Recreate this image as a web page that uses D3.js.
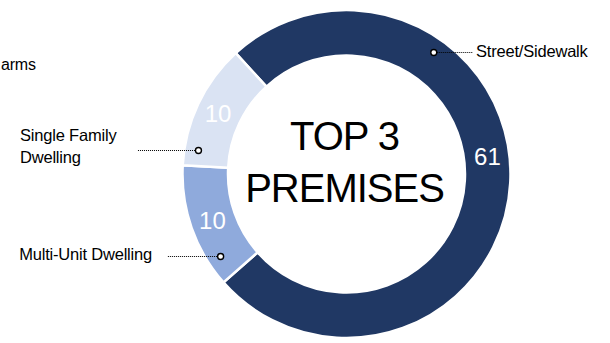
<!DOCTYPE html>
<html><head><meta charset="utf-8">
<script src="https://cdn.jsdelivr.net/npm/d3@7"></script>
<style>
html,body{margin:0;padding:0;background:#fff;}
svg{display:block;font-family:"Liberation Sans",Arial,sans-serif;}
</style></head>
<body>
<svg id="c" width="610" height="343"></svg>
<script>
// ---- data ----
const categories = ["Street/Sidewalk", "Multi-Unit Dwelling", "Single Family Dwelling"];
const values = [61, 10, 10];
const colors = ["#203864", "#8FAADC", "#DAE3F3"];
const centerTitle = ["TOP 3", "PREMISES"];
const clippedLegendText = "arms";

// ---- layout ----
const W = 610, H = 343;
const cx = 346.5, cy = 174, rOuter = 164, rInner = 118.5;
const startDeg = -42.5;
const svg = d3.select("#c");
svg.append("rect").attr("width", W).attr("height", H).attr("fill", "#fff");

const data = categories.map((c, i) => ({cat: c, value: values[i], color: colors[i]}));
const pie = d3.pie().value(d => d.value).sort(null)
  .startAngle(startDeg * Math.PI / 180)
  .endAngle(startDeg * Math.PI / 180 + 2 * Math.PI);
const arcs = pie(data);
const arc = d3.arc().innerRadius(rInner).outerRadius(rOuter);

const g = svg.append("g").attr("transform", `translate(${cx},${cy})`);
g.selectAll("path.slice").data(arcs).join("path")
  .attr("class", "slice")
  .attr("d", arc)
  .attr("fill", d => d.data.color)
  .attr("stroke", "#fff").attr("stroke-width", 2.5);

// value labels: fraction along slice where the label sits
const labelFrac = {"Street/Sidewalk": 0.463, "Multi-Unit Dwelling": 0.5, "Single Family Dwelling": 0.5};
const labelR = 142;
g.selectAll("text.val").data(arcs).join("text")
  .attr("class", "val")
  .attr("x", d => { const a = d.startAngle + (d.endAngle - d.startAngle) * labelFrac[d.data.cat]; return labelR * Math.sin(a); })
  .attr("y", d => { const a = d.startAngle + (d.endAngle - d.startAngle) * labelFrac[d.data.cat]; return -labelR * Math.cos(a); })
  .attr("dy", "0.36em")
  .attr("text-anchor", "middle")
  .attr("font-size", 24)
  .attr("fill", "#fff")
  .text(d => d.value);

// center title
svg.append("text")
  .attr("x", cx - 2).attr("text-anchor", "middle")
  .attr("font-size", 40).attr("letter-spacing", "-1px").attr("fill", "#000")
  .selectAll("tspan").data(centerTitle).join("tspan")
  .attr("x", cx - 2)
  .attr("y", (d, i) => 150 + i * 51.7)
  .text(d => d);

// leader lines + category labels
const anchorFrac = {"Street/Sidewalk": 0.288, "Multi-Unit Dwelling": 0.19, "Single Family Dwelling": 0.14};
const anchorR = 150;
const labelCfg = {
  "Street/Sidewalk": {lineEnd: 473, textX: 476, anchor: "start", lines: ["Street/Sidewalk"], dy: 5},
  "Multi-Unit Dwelling": {lineEnd: 167, textX: 152, anchor: "end", lines: ["Multi-Unit Dwelling"], dy: 4.5},
  "Single Family Dwelling": {lineEnd: 137, textX: 20, anchor: "start", lines: ["Single Family", "Dwelling"], dy: -8.5}
};
arcs.forEach(d => {
  const a = d.startAngle + (d.endAngle - d.startAngle) * anchorFrac[d.data.cat];
  const px = cx + anchorR * Math.sin(a), py = cy - anchorR * Math.cos(a);
  const ly = Math.round(py) + 0.5;
  const cfg = labelCfg[d.data.cat];
  const dir = cfg.lineEnd > px ? 1 : -1;
  svg.append("line")
    .attr("x1", px + dir * 3.5).attr("y1", ly)
    .attr("x2", cfg.lineEnd).attr("y2", ly)
    .attr("stroke", "#000").attr("stroke-width", 1)
    .attr("stroke-dasharray", "1,1");
  svg.append("circle")
    .attr("cx", px).attr("cy", ly).attr("r", 3)
    .attr("fill", "#fff").attr("stroke", "#000").attr("stroke-width", 1.4);
  const t = svg.append("text")
    .attr("text-anchor", cfg.anchor)
    .attr("font-size", 16.5).attr("letter-spacing", "-0.2px").attr("fill", "#000");
  cfg.lines.forEach((ln, i) => {
    t.append("tspan").attr("x", cfg.textX).attr("y", py + cfg.dy + i * 21.5).text(ln);
  });
});

// partially visible legend text at top-left edge
svg.append("text")
  .attr("x", 1).attr("y", 70).attr("text-anchor", "start")
  .attr("font-size", 16).attr("letter-spacing", "-0.2px").attr("fill", "#000")
  .text(clippedLegendText);
</script>
</body></html>
